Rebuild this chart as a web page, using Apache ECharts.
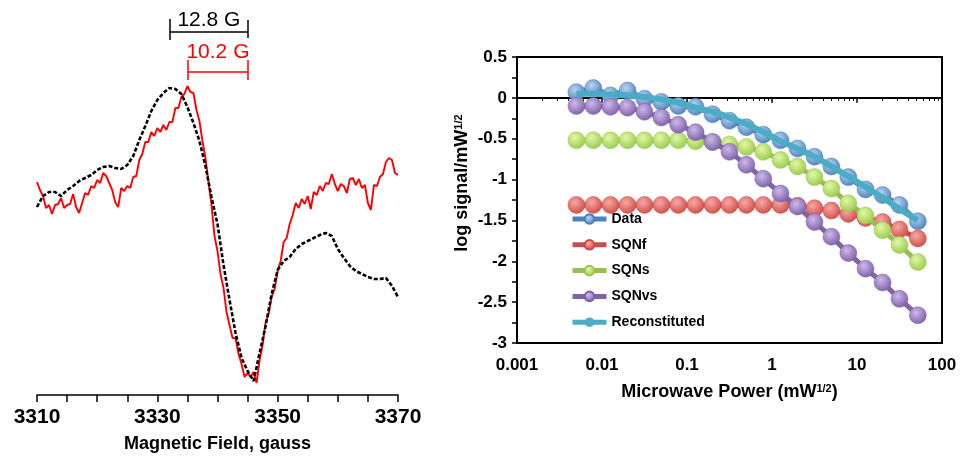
<!DOCTYPE html>
<html>
<head>
<meta charset="utf-8">
<script src="https://cdn.jsdelivr.net/npm/echarts@6/dist/echarts.min.js"></script>
<style>
  html, body { margin: 0; padding: 0; background: #fff; }
  #chart { width: 979px; height: 460px; }
</style>
</head>
<body>
<div id="chart"></div>
<script>
// ---- left panel: EPR spectra (field in gauss, signal in arbitrary units) ----
const redStart = 3310, redStep = 0.5;
const redSignal = [
  213, 205, 199, 187, 190, 181, 190, 191, 197, 187, 190, 191, 201, 188, 182, 192,
  202, 200, 209, 207, 215, 212, 222, 219, 212, 205, 193, 188, 207, 204, 209, 207,
  218, 219, 235, 241, 253, 253, 263, 259, 267, 263, 270, 265, 273, 273, 287, 287,
  298, 301, 309, 303, 302, 285, 274, 254, 237, 213, 190, 159, 144, 121, 107, 83,
  70, 57, 57, 41, 31, 18, 22, 18, 23, 12, 35, 50, 73, 81, 98, 106,
  124, 134, 153, 157, 171, 180, 192, 187, 196, 191, 199, 186, 203, 200, 209, 204,
  212, 211, 221, 211, 204, 211, 209, 202, 216, 217, 210, 216, 207, 210, 192, 185,
  210, 209, 218, 221, 233, 237, 235, 222, 220
];
const blackStart = 3310, blackStep = 1;
const blackSignal = [
  188, 199, 203, 203, 199, 205, 209, 214, 217, 220, 225, 228, 229, 227, 226, 230,
  239, 255, 269, 284, 295, 302, 307, 306, 301, 288, 272, 254, 229, 198, 171, 130,
  95, 62, 37, 24, 14, 42, 69, 101, 125, 134, 138, 146, 151, 154, 157, 160,
  162, 159, 146, 137, 129, 124, 121, 118, 116, 116, 117, 109, 98
];
const fieldTicks = [3310, 3330, 3350, 3370];

// linewidth annotations (peak / trough field positions)
const blackPeak = 3332.1, blackTrough = 3345.05, blackLabel = '12.8 G';
const redPeak = 3335.1, redTrough = 3345.05, redLabel = '10.2 G';

// ---- right panel: power saturation ----
const power = [0.005, 0.0079, 0.0126, 0.02, 0.0316, 0.05, 0.079, 0.126, 0.2, 0.316,
  0.5, 0.79, 1.26, 2, 3.16, 5, 7.9, 12.6, 20, 31.6, 52];
const dataLog = [0.07, 0.12, 0.03, 0.09, -0.01, -0.05, -0.10, -0.11, -0.20, -0.28,
  -0.36, -0.45, -0.52, -0.62, -0.72, -0.84, -0.97, -1.12, -1.19, -1.31, -1.51];
const sqnfLog = [-1.31, -1.31, -1.31, -1.31, -1.31, -1.31, -1.31, -1.31, -1.31, -1.31,
  -1.31, -1.31, -1.31, -1.32, -1.35, -1.38, -1.42, -1.47, -1.52, -1.61, -1.72];
const sqnsLog = [-0.52, -0.52, -0.52, -0.52, -0.52, -0.52, -0.52, -0.53, -0.54, -0.57,
  -0.60, -0.66, -0.76, -0.84, -0.97, -1.11, -1.29, -1.44, -1.62, -1.80, -2.01];
const sqnvsLog = [-0.10, -0.10, -0.11, -0.12, -0.17, -0.24, -0.33, -0.42, -0.54, -0.66,
  -0.82, -0.99, -1.17, -1.33, -1.52, -1.70, -1.90, -2.09, -2.26, -2.46, -2.66];
const reconLog = [0.05, 0.05, 0.04, 0.03, 0.01, -0.02, -0.06, -0.12, -0.17, -0.24,
  -0.32, -0.42, -0.53, -0.62, -0.72, -0.84, -0.96, -1.09, -1.22, -1.36, -1.50];

const FONT = 'Liberation Sans, Arial, sans-serif';

function pairs(start, step, arr) {
  return arr.map((v, i) => [start + i * step, v]);
}
function xy(arr) {
  return arr.map((v, i) => [power[i], v]);
}
function ball(light, dark) {
  return {
    type: 'radial', x: 0.4, y: 0.35, r: 0.7,
    colorStops: [{ offset: 0, color: light }, { offset: 1, color: dark }]
  };
}
// z keeps each series (line + markers) above the previous one, like the original
function satSeries(name, vals, line, light, dark, z) {
  return {
    name: name,
    type: 'line',
    xAxisIndex: 1,
    yAxisIndex: 1,
    z: z,
    data: xy(vals),
    symbol: 'circle',
    symbolSize: 17,
    lineStyle: { color: line, width: 5 },
    itemStyle: { color: ball(light, dark), borderColor: dark, borderWidth: 0.5 },
    emphasis: { disabled: true }
  };
}

const chart = echarts.init(document.getElementById('chart'), null, { renderer: 'canvas' });

const option = {
  backgroundColor: '#fff',
  animation: false,
  textStyle: { fontFamily: FONT },
  grid: [
    { left: 37, right: 581, top: 15, bottom: 65 },
    { left: 517, right: 37, top: 57, bottom: 117, show: true, borderColor: '#000', borderWidth: 2 }
  ],
  legend: {
    orient: 'vertical',
    left: 565,
    top: 207,
    itemWidth: 34,
    itemHeight: 12,
    itemGap: 11.8,
    lineStyle: { width: 5 },
    data: ['Data', 'SQNf', 'SQNs', 'SQNvs', 'Reconstituted'],
    textStyle: { fontFamily: FONT, fontSize: 14, fontWeight: 'bold', color: '#000' }
  },
  xAxis: [
    {
      gridIndex: 0,
      type: 'value',
      min: 3310,
      max: 3370,
      interval: 5,
      name: 'Magnetic Field, gauss',
      nameLocation: 'middle',
      nameGap: 40,
      nameTextStyle: { fontFamily: FONT, fontSize: 18, fontWeight: 'bold', color: '#000' },
      axisLine: { lineStyle: { color: '#000', width: 1.5 } },
      axisTick: { length: 7, lineStyle: { color: '#000', width: 1.5 } },
      axisLabel: {
        margin: 12,
        fontFamily: FONT, fontSize: 21, fontWeight: 'bold', color: '#000',
        formatter: v => (fieldTicks.indexOf(v) >= 0 ? String(v) : '')
      },
      splitLine: { show: false }
    },
    {
      gridIndex: 1,
      type: 'log',
      logBase: 10,
      min: 0.001,
      max: 100,
      name: 'Microwave Power (mW{sup|1/2})',
      nameLocation: 'middle',
      nameGap: 40,
      nameTextStyle: {
        fontFamily: FONT, fontSize: 18, fontWeight: 'bold', color: '#000',
        rich: { sup: { fontFamily: FONT, fontSize: 11, fontWeight: 'bold', color: '#000', verticalAlign: 'top', padding: [0, 0, 8, 0] } }
      },
      axisLine: { lineStyle: { color: '#000', width: 2 } },
      axisTick: { length: 5, lineStyle: { color: '#000', width: 1.5 } },
      minorTick: { show: true, splitNumber: 9, length: 3, lineStyle: { color: '#000', width: 1 } },
      axisLabel: {
        margin: 14,
        fontFamily: FONT, fontSize: 17, fontWeight: 'bold', color: '#000',
        formatter: v => String(+Number(v).toPrecision(3))
      },
      splitLine: { show: false },
      minorSplitLine: { show: false }
    }
  ],
  yAxis: [
    { gridIndex: 0, type: 'value', min: 0, max: 380, show: false },
    {
      gridIndex: 1,
      type: 'value',
      min: -3,
      max: 0.5,
      interval: 0.25,
      name: 'log signal/mW{sup|1/2}',
      nameLocation: 'middle',
      nameGap: 45,
      nameTextStyle: {
        fontFamily: FONT, fontSize: 18, fontWeight: 'bold', color: '#000', padding: [0, 0, 0, 34],
        rich: { sup: { fontFamily: FONT, fontSize: 11, fontWeight: 'bold', color: '#000', verticalAlign: 'top', padding: [0, 0, 8, 0] } }
      },
      axisLine: { show: true, lineStyle: { color: '#000', width: 2 } },
      axisTick: { length: 5, lineStyle: { color: '#000', width: 1.5 } },
      axisLabel: {
        margin: 10,
        fontFamily: FONT, fontSize: 17, fontWeight: 'bold', color: '#000',
        formatter: v => (Math.abs(v * 2 - Math.round(v * 2)) < 1e-6 ? String(v) : '')
      },
      splitLine: { show: false }
    }
  ],
  series: [
    {
      name: 'red',
      type: 'line',
      xAxisIndex: 0,
      yAxisIndex: 0,
      data: pairs(redStart, redStep, redSignal),
      showSymbol: false,
      lineStyle: { color: '#ff0000', width: 1.9 },
      emphasis: { disabled: true },
      markLine: {
        silent: true,
        symbol: 'none',
        lineStyle: { color: '#ff0000', width: 1.5, type: 'solid' },
        label: { show: false },
        data: [
          [{ coord: [redPeak, 323], label: { show: true, position: 'insideMiddleTop', distance: 9, formatter: redLabel, color: '#ff0000', fontFamily: FONT, fontSize: 21 } }, { coord: [redTrough, 323] }],
          [{ coord: [redPeak, 335] }, { coord: [redPeak, 315] }],
          [{ coord: [redTrough, 335] }, { coord: [redTrough, 315] }]
        ]
      }
    },
    {
      name: 'black',
      type: 'line',
      xAxisIndex: 0,
      yAxisIndex: 0,
      data: pairs(blackStart, blackStep, blackSignal),
      showSymbol: false,
      lineStyle: { color: '#000', width: 2.6, type: [4, 2] },
      emphasis: { disabled: true },
      markLine: {
        silent: true,
        symbol: 'none',
        lineStyle: { color: '#000', width: 1.5, type: 'solid' },
        label: { show: false },
        data: [
          [{ coord: [blackPeak, 363], label: { show: true, position: 'insideMiddleTop', distance: 1, formatter: blackLabel, color: '#000', fontFamily: FONT, fontSize: 21 } }, { coord: [blackTrough, 363] }],
          [{ coord: [blackPeak, 376] }, { coord: [blackPeak, 355] }],
          [{ coord: [blackTrough, 375] }, { coord: [blackTrough, 357] }]
        ]
      }
    },
    satSeries('Data', dataLog, '#4F81BD', '#b9d4f2', '#4a7ebb', 3),
    satSeries('SQNf', sqnfLog, '#C0504D', '#f7a9a6', '#cf4a45', 4),
    satSeries('SQNs', sqnsLog, '#9BBB59', '#e2f7a6', '#97c94a', 5),
    satSeries('SQNvs', sqnvsLog, '#8064A2', '#cdb8ea', '#7b5ea6', 6),
    {
      name: 'Reconstituted',
      type: 'line',
      xAxisIndex: 1,
      yAxisIndex: 1,
      z: 7,
      data: xy(reconLog),
      showSymbol: false,
      symbol: 'none',
      smooth: 0.3,
      lineStyle: { color: '#4BACC6', width: 6 },
      itemStyle: { color: '#4BACC6' },
      emphasis: { disabled: true }
    }
  ]
};

chart.setOption(option);
</script>
</body>
</html>
